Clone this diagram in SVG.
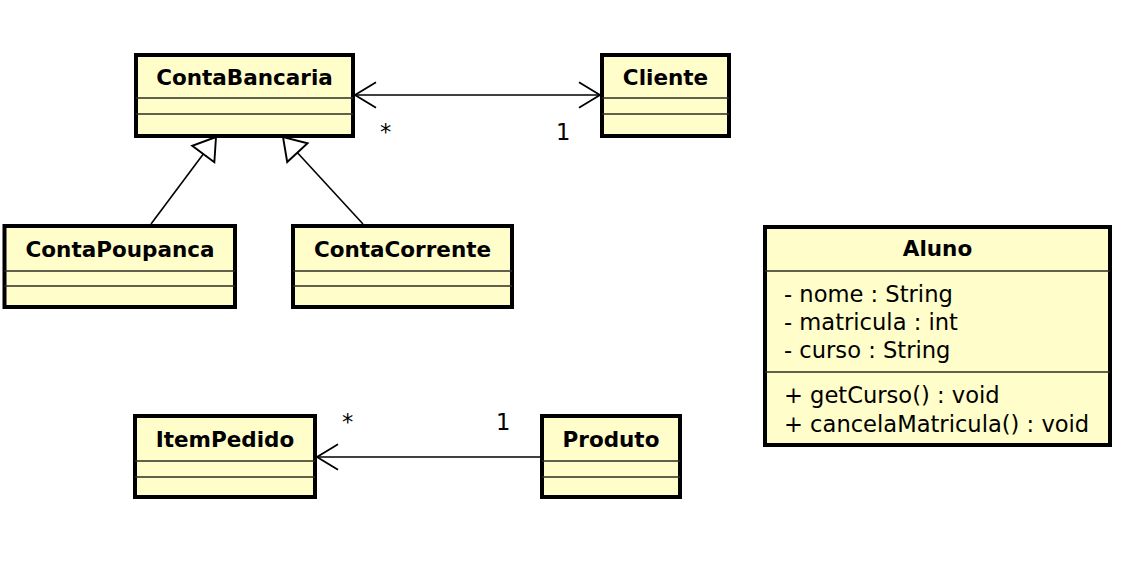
<svg xmlns="http://www.w3.org/2000/svg" width="1138" height="570" viewBox="0 0 1138 570">
<style>
.box{fill:#fffdc9;stroke:#000;stroke-width:4}
.div{stroke:#2b2b20;stroke-width:1.6}
.t{font-family:"DejaVu Sans","Liberation Sans",sans-serif;font-size:21.5px;font-weight:bold;text-anchor:middle;fill:#000}
.a{font-family:"DejaVu Sans","Liberation Sans",sans-serif;font-size:22.6px;fill:#000}
.c{stroke:#000;stroke-width:1.6;fill:none}
</style>
<defs>
<marker id="open" markerUnits="userSpaceOnUse" markerWidth="30" markerHeight="30" viewBox="-24 -15 28 30" refX="0" refY="0" orient="auto-start-reverse">
<path d="M -21 -12.7 L 0 0 L -21 12.7" fill="none" stroke="#000" stroke-width="1.8"/>
</marker>
<marker id="tri" markerUnits="userSpaceOnUse" markerWidth="30" markerHeight="34" viewBox="-24 -16 28 32" refX="0" refY="0" orient="auto">
<path d="M 0 0 L -20 -13 L -20 13 Z" fill="#fff" stroke="#000" stroke-width="1.8"/>
</marker>
</defs>
<rect width="1138" height="570" fill="#fff"/>
<g id="connectors">
<line class="c" x1="355" y1="95" x2="600" y2="95" marker-start="url(#open)" marker-end="url(#open)"/>
<line class="c" x1="540" y1="457" x2="317" y2="457" marker-end="url(#open)"/>
<line class="c" x1="151" y1="224" x2="216" y2="137" marker-end="url(#tri)"/>
<line class="c" x1="363" y1="224" x2="283" y2="137" marker-end="url(#tri)"/>
<text class="a" x="380" y="140">*</text>
<text class="a" x="556" y="140">1</text>
<text class="a" x="342" y="430">*</text>
<text class="a" x="496" y="430">1</text>
</g>
<g id="ContaBancaria">
<rect class="box" x="136" y="55" width="217" height="81"/>
<line class="div" x1="136" y1="98" x2="353" y2="98"/>
<line class="div" x1="136" y1="114" x2="353" y2="114"/>
<text class="t" x="244.5" y="85">ContaBancaria</text>
</g>
<g id="Cliente">
<rect class="box" x="602" y="55" width="127" height="81"/>
<line class="div" x1="602" y1="98" x2="729" y2="98"/>
<line class="div" x1="602" y1="114" x2="729" y2="114"/>
<text class="t" x="665.5" y="85">Cliente</text>
</g>
<g id="ContaPoupanca">
<rect class="box" x="4.5" y="226" width="230.5" height="81"/>
<line class="div" x1="4.5" y1="271" x2="235" y2="271"/>
<line class="div" x1="4.5" y1="286" x2="235" y2="286"/>
<text class="t" x="120" y="257">ContaPoupanca</text>
</g>
<g id="ContaCorrente">
<rect class="box" x="293" y="226" width="219" height="81"/>
<line class="div" x1="293" y1="271" x2="512" y2="271"/>
<line class="div" x1="293" y1="286" x2="512" y2="286"/>
<text class="t" x="402.5" y="257">ContaCorrente</text>
</g>
<g id="ItemPedido">
<rect class="box" x="135" y="416" width="180" height="81"/>
<line class="div" x1="135" y1="461" x2="315" y2="461"/>
<line class="div" x1="135" y1="477" x2="315" y2="477"/>
<text class="t" x="225" y="447">ItemPedido</text>
</g>
<g id="Produto">
<rect class="box" x="542" y="416" width="138" height="81"/>
<line class="div" x1="542" y1="461" x2="680" y2="461"/>
<line class="div" x1="542" y1="477" x2="680" y2="477"/>
<text class="t" x="611" y="447">Produto</text>
</g>
<g id="Aluno">
<rect class="box" x="765" y="227" width="345" height="218"/>
<line class="div" x1="765" y1="271" x2="1110" y2="271"/>
<line class="div" x1="765" y1="372" x2="1110" y2="372"/>
<text class="t" x="937.5" y="256">Aluno</text>
<text class="a" x="784" y="302">- nome : String</text>
<text class="a" x="784" y="330">- matricula : int</text>
<text class="a" x="784" y="358">- curso : String</text>
<text class="a" x="784" y="403">+ getCurso() : void</text>
<text class="a" x="784" y="432">+ cancelaMatricula() : void</text>
</g>
</svg>
